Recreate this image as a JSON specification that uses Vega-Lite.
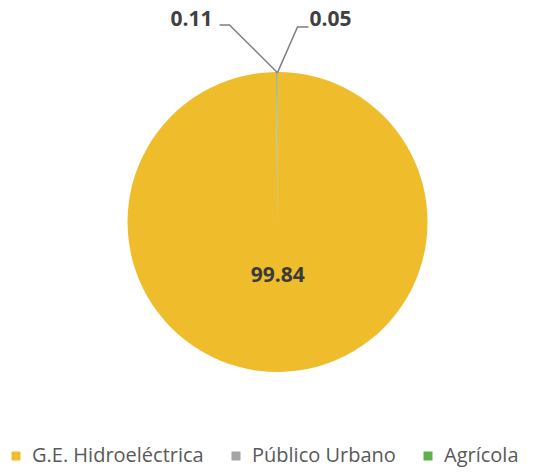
{
  "$schema": "https://vega.github.io/schema/vega-lite/v6.json",
  "width": 555,
  "height": 472,
  "autosize": {"type": "fit", "contains": "padding"},
  "padding": 0,
  "background": "white",
  "config": {"view": {"stroke": null}, "font": "Open Sans"},
  "datasets": {
    "uso": [
      {"uso": "G.E. Hidroeléctrica", "pct": 99.84, "ord": 1},
      {"uso": "Público Urbano", "pct": 0.11, "ord": 2},
      {"uso": "Agrícola", "pct": 0.05, "ord": 3}
    ],
    "leaders": [
      {"uso": "Público Urbano", "step": 1, "px": 0, "py": 150},
      {"uso": "Público Urbano", "step": 2, "px": -48, "py": 198},
      {"uso": "Público Urbano", "step": 3, "px": -58, "py": 198},
      {"uso": "Agrícola", "step": 1, "px": 0, "py": 150},
      {"uso": "Agrícola", "step": 2, "px": 20, "py": 196},
      {"uso": "Agrícola", "step": 3, "px": 31, "py": 196}
    ],
    "smalllabels": [
      {"uso": "Público Urbano", "pct": 0.11, "px": -65, "py": 203},
      {"uso": "Agrícola", "pct": 0.05, "px": 32, "py": 203}
    ]
  },
  "layer": [
    {
      "data": {"name": "uso"},
      "mark": {"type": "arc", "outerRadius": 150},
      "encoding": {
        "theta": {"field": "pct", "type": "quantitative", "stack": true},
        "order": {"field": "ord", "type": "quantitative"},
        "color": {
          "field": "uso",
          "type": "nominal",
          "sort": ["G.E. Hidroeléctrica", "Público Urbano", "Agrícola"],
          "scale": {"domain": ["G.E. Hidroeléctrica", "Público Urbano", "Agrícola"], "range": ["#EFBD2C", "#A5A5A5", "#5EAE4C"]},
          "legend": {
            "title": null,
            "orient": "bottom",
            "offset": -4,
            "direction": "horizontal",
            "symbolType": "square",
            "symbolSize": 81,
            "symbolStrokeWidth": 0,
            "labelFontSize": 20,
            "labelColor": "#595959",
            "labelFont": "Open Sans",
            "labelLimit": 300,
            "columnPadding": 22,
            "labelOffset": 6,
            "padding": 6
          }
        }
      }
    },
    {
      "data": {"name": "uso"},
      "transform": [{"filter": "datum.ord == 1"}],
      "mark": {"type": "text", "radius": 54, "fontSize": 21, "fontWeight": "bold", "color": "#3a3a3a", "theta": 3.1364},
      "encoding": {
        "text": {"field": "pct", "type": "quantitative", "format": ".2f"}
      }
    },
    {
      "data": {"name": "leaders"},
      "mark": {"type": "line", "color": "#7f7f7f", "strokeWidth": 1.5},
      "encoding": {
        "x": {"field": "px", "type": "quantitative", "scale": {"domain": [-277.5, 277.5], "nice": false, "zero": false}, "axis": null},
        "y": {"field": "py", "type": "quantitative", "scale": {"domain": [-223, 223], "nice": false, "zero": false}, "axis": null},
        "detail": {"field": "uso"},
        "order": {"field": "step"}
      }
    },
    {
      "data": {"name": "smalllabels"},
      "transform": [{"filter": "datum.uso == 'Público Urbano'"}],
      "mark": {"type": "text", "fontSize": 21, "fontWeight": "bold", "color": "#404040", "baseline": "middle", "align": "right"},
      "encoding": {
        "x": {"field": "px", "type": "quantitative", "scale": {"domain": [-277.5, 277.5], "nice": false, "zero": false}, "axis": null},
        "y": {"field": "py", "type": "quantitative", "scale": {"domain": [-223, 223], "nice": false, "zero": false}, "axis": null},
        "text": {"field": "pct", "type": "quantitative", "format": ".2f"}
      }
    },
    {
      "data": {"name": "smalllabels"},
      "transform": [{"filter": "datum.uso == 'Agrícola'"}],
      "mark": {"type": "text", "fontSize": 21, "fontWeight": "bold", "color": "#404040", "baseline": "middle", "align": "left"},
      "encoding": {
        "x": {"field": "px", "type": "quantitative", "scale": {"domain": [-277.5, 277.5], "nice": false, "zero": false}, "axis": null},
        "y": {"field": "py", "type": "quantitative", "scale": {"domain": [-223, 223], "nice": false, "zero": false}, "axis": null},
        "text": {"field": "pct", "type": "quantitative", "format": ".2f"}
      }
    }
  ]
}
